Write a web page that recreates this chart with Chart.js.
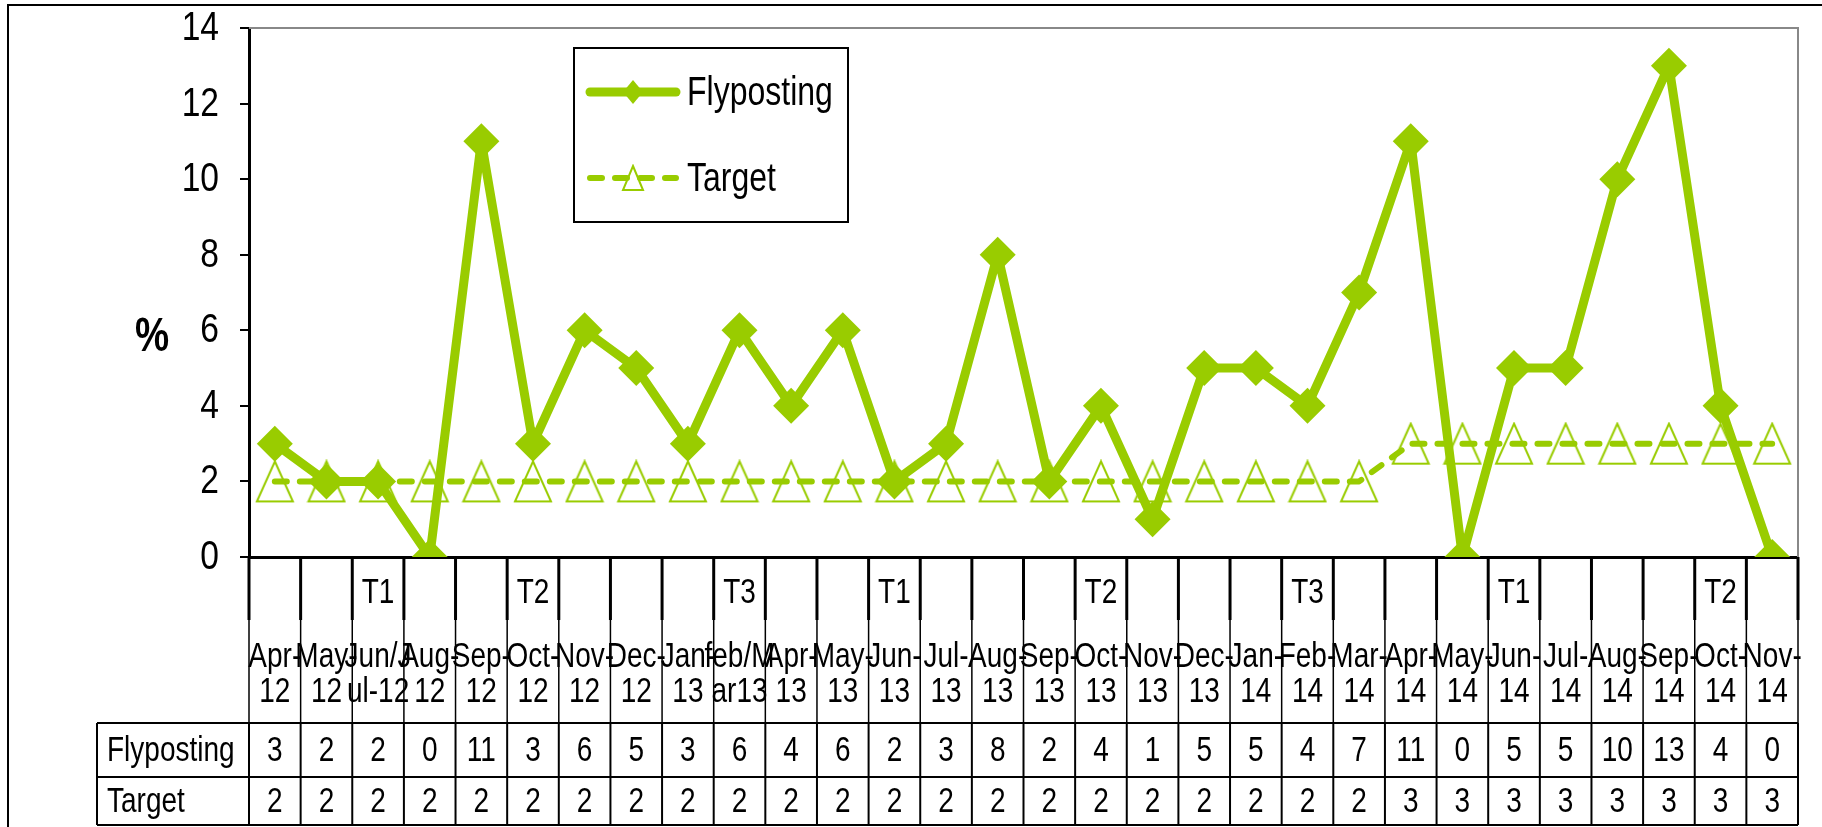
<!DOCTYPE html>
<html>
<head>
<meta charset="utf-8">
<title>Flyposting</title>
<script src="https://cdn.jsdelivr.net/npm/chart.js@4.4.1/dist/chart.umd.min.js"></script>
<style>
  html, body { margin: 0; padding: 0; background: #fff; }
  canvas { display: block; }
</style>
</head>
<body>
<canvas id="flyChart" width="1822" height="827"></canvas>
<script>
// categories as they show in the table (wrapped onto two lines)
const categories = [
  ["Apr-", "12"], ["May-", "12"], ["Jun/J", "ul-12"], ["Aug-", "12"], ["Sep-", "12"],
  ["Oct-", "12"], ["Nov-", "12"], ["Dec-", "12"], ["Jan-", "13"], ["feb/M", "ar13"],
  ["Apr-", "13"], ["May-", "13"], ["Jun-", "13"], ["Jul-", "13"], ["Aug-", "13"],
  ["Sep-", "13"], ["Oct-", "13"], ["Nov-", "13"], ["Dec-", "13"], ["Jan-", "14"],
  ["Feb-", "14"], ["Mar-", "14"], ["Apr-", "14"], ["May-", "14"], ["Jun-", "14"],
  ["Jul-", "14"], ["Aug-", "14"], ["Sep-", "14"], ["Oct-", "14"], ["Nov-", "14"],
];
const terms = [
  "", "", "T1", "", "", "T2", "", "", "", "T3",
  "", "", "T1", "", "", "", "T2", "", "", "",
  "T3", "", "", "", "T1", "", "", "", "T2", "",
];
const flyposting = [3, 2, 2, 0, 11, 3, 6, 5, 3, 6, 4, 6, 2, 3, 8, 2, 4, 1, 5, 5, 4, 7, 11, 0, 5, 5, 10, 13, 4, 0];
const target = [2, 2, 2, 2, 2, 2, 2, 2, 2, 2, 2, 2, 2, 2, 2, 2, 2, 2, 2, 2, 2, 2, 3, 3, 3, 3, 3, 3, 3, 3];
const yTicks = [0, 2, 4, 6, 8, 10, 12, 14];

const GREEN = "#99cc00";
const FONT = "'Liberation Sans', Arial, sans-serif";
const NARROW = 0.8; // the original uses a condensed face

function triangleImg(w, h, lw) {
  const c = document.createElement("canvas");
  c.width = w + lw * 2;
  c.height = h + lw * 2;
  const g = c.getContext("2d");
  g.strokeStyle = GREEN;
  g.lineWidth = lw;
  g.beginPath();
  g.moveTo(c.width / 2, lw);
  g.lineTo(c.width - lw, c.height - lw);
  g.lineTo(lw, c.height - lw);
  g.closePath();
  g.stroke();
  return c;
}

const triBig = triangleImg(36, 40, 2);
const triSmall = triangleImg(20, 24, 2);

function text(ctx, s, x, y, sx = NARROW) {
  ctx.save();
  ctx.translate(x, y);
  ctx.scale(sx, 1);
  ctx.fillText(s, 0, 0);
  ctx.restore();
}

// frame, plot border, y labels, data table, legend and "%" label
const decorPlugin = {
  id: "decor",
  beforeDatasetsDraw(chart) {
    const { ctx, chartArea: a } = chart;
    ctx.save();
    ctx.strokeStyle = "#888";
    ctx.lineWidth = 2;
    ctx.beginPath();
    ctx.moveTo(a.left, a.top);
    ctx.lineTo(a.right, a.top);
    ctx.lineTo(a.right, a.bottom);
    ctx.stroke();
    ctx.restore();
  },
  afterDraw(chart) {
    const { ctx, chartArea: a, scales } = chart;
    const x = scales.x;
    const y = scales.y;
    const n = categories.length;
    const w = (a.right - a.left) / n;
    const b = a.bottom;
    const rowTop = b + 166, rowMid = b + 220, rowBot = b + 268;
    const labelLeft = 97;

    ctx.save();

    // outer frame
    ctx.strokeStyle = "#000";
    ctx.lineWidth = 2;
    ctx.beginPath();
    ctx.moveTo(8, chart.height + 5);
    ctx.lineTo(8, 5);
    ctx.lineTo(chart.width + 5, 5);
    ctx.stroke();

    // y tick labels (condensed)
    ctx.fillStyle = "#000";
    ctx.font = `40px ${FONT}`;
    ctx.textAlign = "right";
    ctx.textBaseline = "middle";
    y.ticks.forEach((t) => {
      text(ctx, String(t.value), a.left - 30, y.getPixelForValue(t.value) + 1, 0.84);
    });

    // table grid
    for (let i = 0; i <= n; i++) {
      const xx = i < n ? x.getPixelForValue(i) - w / 2 : x.getPixelForValue(n - 1) + w / 2;
      ctx.lineWidth = 3;
      ctx.beginPath();
      ctx.moveTo(xx, b);
      ctx.lineTo(xx, b + 63);
      ctx.stroke();
      ctx.lineWidth = 1.5;
      ctx.beginPath();
      ctx.moveTo(xx, b + 63);
      ctx.lineTo(xx, rowTop);
      ctx.stroke();
      ctx.lineWidth = 2;
      ctx.beginPath();
      ctx.moveTo(xx, rowTop);
      ctx.lineTo(xx, rowBot);
      ctx.stroke();
    }
    ctx.lineWidth = 2;
    ctx.beginPath();
    [rowTop, rowMid, rowBot].forEach((yy) => {
      ctx.moveTo(labelLeft, yy);
      ctx.lineTo(a.right, yy);
    });
    ctx.moveTo(labelLeft, rowTop);
    ctx.lineTo(labelLeft, rowBot);
    ctx.stroke();

    // table text
    ctx.font = `35px ${FONT}`;
    ctx.textAlign = "center";
    categories.forEach((lines, i) => {
      const cx = x.getPixelForValue(i);
      if (terms[i]) text(ctx, terms[i], cx, b + 36);
      text(ctx, lines[0], cx, b + 100);
      text(ctx, lines[1], cx, b + 135);
      text(ctx, String(flyposting[i]), cx, (rowTop + rowMid) / 2 + 1);
      text(ctx, String(target[i]), cx, (rowMid + rowBot) / 2 + 1);
    });
    ctx.textAlign = "left";
    const ds = chart.data.datasets;
    text(ctx, ds[0].label, labelLeft + 10, (rowTop + rowMid) / 2 + 1);
    text(ctx, ds[1].label, labelLeft + 10, (rowMid + rowBot) / 2 + 1);

    // "%" axis label
    ctx.font = `bold 48px ${FONT}`;
    ctx.textAlign = "center";
    text(ctx, "%", 152, 338);

    // legend
    const lx = 574, ly = 48, lw = 274, lh = 174;
    ctx.fillStyle = "#fff";
    ctx.fillRect(lx, ly, lw, lh);
    ctx.strokeStyle = "#000";
    ctx.lineWidth = 2;
    ctx.strokeRect(lx, ly, lw, lh);

    const y1 = ly + 44, y2 = ly + 130;
    ctx.strokeStyle = GREEN;
    ctx.lineCap = "round";
    ctx.lineWidth = 9;
    ctx.beginPath();
    ctx.moveTo(lx + 16, y1);
    ctx.lineTo(lx + 102, y1);
    ctx.stroke();
    ctx.fillStyle = GREEN;
    ctx.beginPath();
    ctx.moveTo(lx + 59, y1 - 12);
    ctx.lineTo(lx + 69, y1);
    ctx.lineTo(lx + 59, y1 + 12);
    ctx.lineTo(lx + 49, y1);
    ctx.closePath();
    ctx.fill();

    ctx.lineWidth = 6;
    ctx.setLineDash([12, 13]);
    ctx.beginPath();
    ctx.moveTo(lx + 16, y2);
    ctx.lineTo(lx + 102, y2);
    ctx.stroke();
    ctx.setLineDash([]);
    ctx.drawImage(triSmall, lx + 59 - triSmall.width / 2, y2 - triSmall.height / 2);

    ctx.fillStyle = "#000";
    ctx.font = `40px ${FONT}`;
    ctx.textAlign = "left";
    text(ctx, ds[0].label, lx + 113, y1 + 2);
    text(ctx, ds[1].label, lx + 113, y2 + 2);

    ctx.restore();
  },
};

new Chart(document.getElementById("flyChart"), {
  type: "line",
  data: {
    labels: categories,
    datasets: [
      {
        label: "Flyposting",
        data: flyposting,
        borderColor: GREEN,
        backgroundColor: GREEN,
        borderWidth: 9,
        borderJoinStyle: "round",
        tension: 0,
        pointStyle: "rectRot",
        pointRadius: 18,
        pointBorderWidth: 0,
        pointBackgroundColor: GREEN,
      },
      {
        label: "Target",
        data: target,
        borderColor: GREEN,
        borderWidth: 6,
        borderDash: [12, 13],
        borderCapStyle: "round",
        borderJoinStyle: "round",
        tension: 0,
        pointStyle: triBig,
        pointRadius: 18,
      },
    ],
  },
  options: {
    responsive: false,
    animation: false,
    layout: { padding: { top: 28, right: 9, bottom: 270, left: 0 } },
    plugins: {
      legend: { display: false },
      tooltip: { enabled: false },
    },
    scales: {
      x: {
        type: "category",
        offset: true,
        ticks: { display: false },
        grid: { display: false, drawTicks: false },
        border: { display: true, color: "#000", width: 3 },
        afterFit: (s) => { s.height = 0; },
      },
      y: {
        min: 0,
        max: 14,
        afterBuildTicks: (s) => { s.ticks = yTicks.map((v) => ({ value: v })); },
        ticks: { display: false },
        grid: { drawOnChartArea: false, tickLength: 9, color: "#000", lineWidth: 2 },
        border: { display: true, color: "#000", width: 3 },
        afterFit: (s) => {
          s.width = 249;
          s.paddingTop = 0;
          s.paddingBottom = 0;
        },
      },
    },
  },
  plugins: [decorPlugin],
});
</script>
</body>
</html>
